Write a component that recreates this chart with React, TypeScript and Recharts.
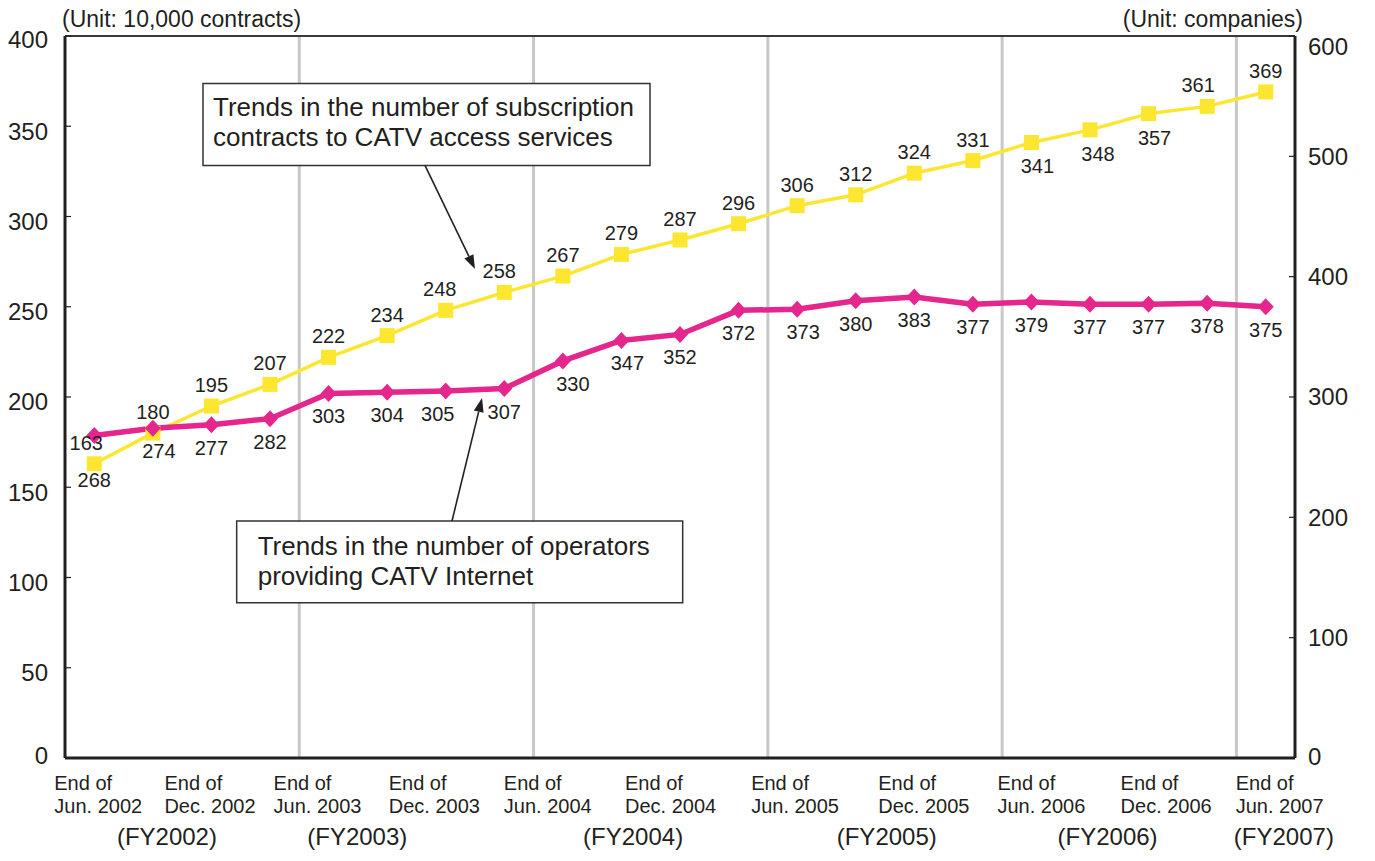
import React from "react";
import {
  LineChart, Line, XAxis, YAxis, CartesianGrid, ReferenceLine, ReferenceArea, LabelList,
} from "recharts";

// quarter-end periods, Jun 2002 .. Jun 2007
const periods = [
  "Jun. 2002", "Sep. 2002", "Dec. 2002", "Mar. 2003", "Jun. 2003", "Sep. 2003", "Dec. 2003",
  "Mar. 2004", "Jun. 2004", "Sep. 2004", "Dec. 2004", "Mar. 2005", "Jun. 2005", "Sep. 2005",
  "Dec. 2005", "Mar. 2006", "Jun. 2006", "Sep. 2006", "Dec. 2006", "Mar. 2007", "Jun. 2007",
];
// subscription contracts (10,000 contracts)
const contracts = [163, 180, 195, 207, 222, 234, 248, 258, 267, 279, 287, 296, 306, 312, 324, 331, 341, 348, 357, 361, 369];
// operators providing CATV Internet (companies)
const operators = [268, 274, 277, 282, 303, 304, 305, 307, 330, 347, 352, 372, 373, 380, 383, 377, 379, 377, 377, 378, 375];

const periodTicks = [0, 2, 4, 6, 8, 10, 12, 14, 16, 18, 20];
const fyLabels = ["(FY2002)", "(FY2003)", "(FY2004)", "(FY2005)", "(FY2006)", "(FY2007)"];
const fyBoundaries = [3.5, 7.5, 11.5, 15.5, 19.5];
const leftTicks = [0, 50, 100, 150, 200, 250, 300, 350, 400];
const rightTicks = [0, 100, 200, 300, 400, 500, 600];

const data = periods.map((p, i) => ({ idx: i, period: p, contracts: contracts[i], operators: operators[i] }));

// layout tweaks (hand placed in the original)
const FY_POS = [1.24, 4.49, 9.2, 13.53, 17.3, 20.31];
const PERIOD_NUDGE: Record<number, number> = { 0: 6, 2: -1, 4: -9, 6: -11, 8: -13, 10: -9, 12: 0, 14: 10, 16: 12, 18: 18, 20: 16 };
const YELLOW_BELOW = [16, 17, 18];
const YELLOW_DX: Record<number, number> = { 0: -8, 6: -6, 7: -5, 16: 6, 17: 8, 18: 6, 19: -9 };
const MAGENTA_DX: Record<number, number> = { 1: 6, 6: -8, 8: 10, 9: 6, 12: 6 };

const YELLOW = "#fde62f";
const MAGENTA = "#e5268c";
const INK = "#231f20";
const FONT = "'Liberation Sans', Arial, Helvetica, sans-serif";

const LeftTick = ({ x, y, payload }: any) => {
  const v = payload.value;
  const off = v === 0 ? -2 : v === 400 ? 4 : 5;
  return (
    <text x={x} y={y + off} dy="0.35em" textAnchor="end" fontSize={24} fill={INK} fontFamily={FONT}>
      {v}
    </text>
  );
};

const RightTick = ({ x, y, payload }: any) => {
  const v = payload.value;
  const off = v === 600 ? 11 : v === 0 ? -1 : 0;
  return (
    <text x={x} y={y + off} dy="0.35em" textAnchor="start" fontSize={24} fill={INK} fontFamily={FONT}>
      {v}
    </text>
  );
};

const PeriodTick = ({ x, y, payload }: any) => {
  const i = payload.value;
  const left = x + (PERIOD_NUDGE[i] || 0) - 46;
  return (
    <g>
      <text x={left} y={y + 32} fontSize={20} fill={INK} fontFamily={FONT}>End of</text>
      <text x={left} y={y + 55} fontSize={20} fill={INK} fontFamily={FONT}>{periods[i]}</text>
    </g>
  );
};

const FyTick = ({ x, y, index }: any) => (
  <text x={x} y={y + 25} textAnchor="middle" fontSize={24} fill={INK} fontFamily={FONT}>
    {fyLabels[index]}
  </text>
);

const Square = ({ cx, cy, index }: any) => (
  <rect key={`sq-${index}`} x={cx - 7.5} y={cy - 7.5} width={15} height={15} fill={YELLOW} />
);

const Diamond = ({ cx, cy, index }: any) => (
  <polygon
    key={`dm-${index}`}
    points={`${cx},${cy - 8.5} ${cx + 8},${cy} ${cx},${cy + 8.5} ${cx - 8},${cy}`}
    fill={MAGENTA}
  />
);

const contractLabel = (p: any) => {
  const x = p.x ?? p.viewBox?.x;
  const y = p.y ?? p.viewBox?.y;
  const below = YELLOW_BELOW.includes(p.index);
  return (
    <text
      key={`cl-${p.index}`}
      x={x + (YELLOW_DX[p.index] || 0)}
      y={below ? y + 24 : y - 21}
      dy="0.35em"
      textAnchor="middle"
      fontSize={20}
      fill={INK}
      fontFamily={FONT}
    >
      {p.value}
    </text>
  );
};

const operatorLabel = (p: any) => {
  const x = p.x ?? p.viewBox?.x;
  const y = p.y ?? p.viewBox?.y;
  return (
    <text
      key={`ol-${p.index}`}
      x={x + (MAGENTA_DX[p.index] || 0)}
      y={p.index === 0 ? y + 44 : y + 23}
      dy="0.35em"
      textAnchor="middle"
      fontSize={20}
      fill={INK}
      fontFamily={FONT}
    >
      {p.value}
    </text>
  );
};

const boxText = (lines: string[], padX: number, firstBase: number) => (props: any) => {
  const vb = props.viewBox || {};
  return (
    <g>
      {lines.map((t, k) => (
        <text key={t} x={vb.x + padX} y={vb.y + firstBase + k * 29.5} fontSize={26} fill={INK} fontFamily={FONT}>
          {t}
        </text>
      ))}
    </g>
  );
};

const Arrow = (props: any) => {
  const { x1, y1, x2, y2 } = props;
  const a = Math.atan2(y2 - y1, x2 - x1);
  const len = 14;
  const w = 5;
  const bx = x2 - len * Math.cos(a);
  const by = y2 - len * Math.sin(a);
  const px = -Math.sin(a) * w;
  const py = Math.cos(a) * w;
  return (
    <g>
      <line x1={x1} y1={y1} x2={bx} y2={by} stroke={INK} strokeWidth={1.6} />
      <polygon points={`${x2},${y2} ${bx + px},${by + py} ${bx - px},${by - py}`} fill={INK} />
    </g>
  );
};

const unitLeft = (props: any) => {
  const vb = props.viewBox || {};
  return (
    <text x={vb.x + 62} y={27} fontSize={23} fill={INK} fontFamily={FONT}>(Unit: 10,000 contracts)</text>
  );
};

const unitRight = (props: any) => {
  const vb = props.viewBox || {};
  return (
    <text x={vb.x + 8} y={27} textAnchor="end" fontSize={23} fill={INK} fontFamily={FONT}>(Unit: companies)</text>
  );
};

export default function App() {
  return (
    <div style={{ position: "absolute", left: 0, top: 0, width: 1375, height: 861, background: "#fff", fontFamily: FONT }}>
      <LineChart width={1375} height={861} data={data} margin={{ top: 36, right: 0, bottom: 0, left: 0 }}>
        <CartesianGrid
          xAxisId="a"
          yAxisId="left"
          horizontal={false}
          verticalValues={fyBoundaries}
          stroke="#c8c8c8"
          strokeWidth={3}
        />
        <XAxis
          xAxisId="b"
          dataKey="idx"
          type="number"
          domain={[-0.5, 20.5]}
          ticks={FY_POS}
          interval={0}
          height={41}
          tickSize={0}
          tickMargin={0}
          tickLine={false}
          axisLine={false}
          tick={<FyTick />}
        />
        <XAxis
          xAxisId="a"
          dataKey="idx"
          type="number"
          domain={[-0.5, 20.5]}
          ticks={periodTicks}
          interval={0}
          height={62}
          tickSize={0}
          tickMargin={0}
          tickLine={false}
          axisLine={{ stroke: INK, strokeWidth: 3 }}
          tick={<PeriodTick />}
        />
        <YAxis
          yAxisId="left"
          domain={[0, 400]}
          ticks={leftTicks}
          interval={0}
          width={65}
          tickSize={-6}
          tickMargin={23}
          axisLine={{ stroke: INK, strokeWidth: 3 }}
          tickLine={{ stroke: INK, strokeWidth: 1.2 }}
          tick={<LeftTick />}
          label={unitLeft}
        />
        <YAxis
          yAxisId="right"
          orientation="right"
          domain={[0, 600]}
          ticks={rightTicks}
          interval={0}
          width={80}
          tickSize={-6}
          tickMargin={19}
          axisLine={{ stroke: INK, strokeWidth: 3 }}
          tickLine={{ stroke: INK, strokeWidth: 1.2 }}
          tick={<RightTick />}
          label={unitRight}
        />
        <ReferenceLine xAxisId="a" yAxisId="left" y={400} stroke="#3a3a3a" strokeWidth={2} />

        <ReferenceArea
          xAxisId="a"
          yAxisId="left"
          x1={1.856}
          x2={9.488}
          y1={328.3}
          y2={373.7}
          fill="#fff"
          fillOpacity={1}
          stroke="#333"
          strokeWidth={1.5}
          label={boxText(["Trends in the number of subscription", "contracts to CATV access services"], 10, 33)}
        />
        <ReferenceArea
          xAxisId="a"
          yAxisId="left"
          x1={2.431}
          x2={10.046}
          y1={86.0}
          y2={131.3}
          fill="#fff"
          fillOpacity={1}
          stroke="#333"
          strokeWidth={1.5}
          label={boxText(["Trends in the number of operators", "providing CATV Internet"], 21, 34)}
        />
        <ReferenceLine
          xAxisId="a"
          yAxisId="left"
          segment={[{ x: 5.646, y: 328.3 }, { x: 6.5, y: 270.9 }]}
          shape={Arrow}
        />
        <ReferenceLine
          xAxisId="a"
          yAxisId="left"
          segment={[{ x: 6.107, y: 131.3 }, { x: 6.62, y: 199.4 }]}
          shape={Arrow}
        />

        <Line
          xAxisId="a"
          yAxisId="left"
          type="linear"
          dataKey="contracts"
          stroke={YELLOW}
          strokeWidth={3.5}
          dot={Square}
          activeDot={false}
          isAnimationActive={false}
        >
          <LabelList dataKey="contracts" content={contractLabel} />
        </Line>
        <Line
          xAxisId="a"
          yAxisId="right"
          type="linear"
          dataKey="operators"
          stroke={MAGENTA}
          strokeWidth={5.5}
          dot={Diamond}
          activeDot={false}
          isAnimationActive={false}
        >
          <LabelList dataKey="operators" content={operatorLabel} />
        </Line>
      </LineChart>
    </div>
  );
}
